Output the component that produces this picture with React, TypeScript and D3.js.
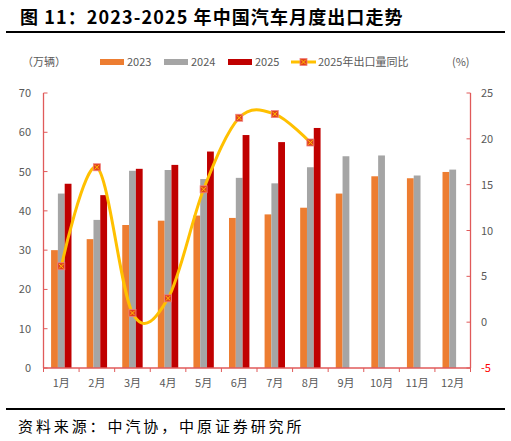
import * as d3 from 'd3';

// monthly export volume, 10k units
const months = ['1月', '2月', '3月', '4月', '5月', '6月', '7月', '8月', '9月', '10月', '11月', '12月'];
const exports2023 = [30.0, 32.8, 36.4, 37.5, 38.8, 38.2, 39.1, 40.8, 44.4, 48.8, 48.3, 49.9];
const exports2024 = [44.4, 37.7, 50.2, 50.4, 48.1, 48.4, 47.0, 51.1, 53.9, 54.1, 49.0, 50.5];
const exports2025 = [46.9, 44.0, 50.7, 51.7, 55.1, 59.3, 57.5, 61.1];
// 2025 yoy growth, %
const yoy2025 = [6.1, 16.9, 1.0, 2.6, 14.5, 22.3, 22.7, 19.6];

const leftTicks = [0, 10, 20, 30, 40, 50, 60, 70];
const rightTicks = [-5, 0, 5, 10, 15, 20, 25];

const W = 511;
const H = 441;
const plot = { left: 43.5, right: 470.5, top: 93, bottom: 368 };

const seriesNames = ['2023', '2024', '2025'];
const colors = ['#ED7D31', '#A5A5A5', '#C00000'];
const axisColor = '#E05A5A';
const labelColor = '#595959';
const cjk = '"Noto Sans CJK SC", "Noto Sans", sans-serif';

function Marker({ x, y }: { x: number; y: number }) {
  const s = 3.5;
  return (
    <g>
      <rect x={x - s} y={y - s} width={s * 2} height={s * 2} fill="#E2401C" stroke="#F08080" strokeWidth={0.8} />
      <path
        d={`M${x - s + 1.2},${y - s + 1.2}L${x + s - 1.2},${y + s - 1.2}M${x + s - 1.2},${y - s + 1.2}L${x - s + 1.2},${y + s - 1.2}`}
        stroke="#FFC000"
        strokeWidth={1}
      />
    </g>
  );
}

export default function App() {
  const x = d3.scaleBand<string>().domain(months).range([plot.left, plot.right]);
  const yL = d3.scaleLinear().domain([0, 70]).range([plot.bottom, plot.top]);
  const yR = d3.scaleLinear().domain([-5, 25]).range([plot.bottom, plot.top]);

  const barW = 6.8;
  const groups = [exports2023, exports2024, exports2025];

  const cx = (m: string) => (x(m) ?? 0) + x.bandwidth() / 2;

  const line = d3
    .line<number>()
    .x((_, i) => cx(months[i]))
    .y((d) => yR(d))
    .curve(d3.curveCardinal.tension(0));

  const legend = [
    { x: 100, i: 0 },
    { x: 164, i: 1 },
    { x: 228, i: 2 },
  ];

  return (
    <svg
      width={W}
      height={H}
      style={{ position: 'fixed', left: 0, top: 0, background: '#fff' }}
      fontFamily={cjk}
    >
      {/* title */}
      <text x={20} y={24} fontSize={18} fontWeight="bold" fill="#000" letterSpacing={1.1}>
        图 11：2023-2025 年中国汽车月度出口走势
      </text>
      <line x1={6} x2={505} y1={32} y2={32} stroke="#000" strokeWidth={2} />

      {/* legend */}
      <text x={22} y={66} fontSize={11} fill={labelColor}>（万辆）</text>
      {legend.map(({ x: lx, i }) => (
        <g key={i}>
          <rect x={lx} y={59} width={24} height={6} fill={colors[i]} />
          <text x={lx + 27} y={66} fontSize={11} fill={labelColor}>{seriesNames[i]}</text>
        </g>
      ))}
      <line x1={291} x2={316} y1={62} y2={62} stroke="#FFC000" strokeWidth={3} />
      <Marker x={303.5} y={62} />
      <text x={318} y={66} fontSize={11} fill={labelColor}>2025年出口量同比</text>
      <text x={452} y={66} fontSize={11} fill={labelColor}>(%)</text>

      {/* bars */}
      {groups.map((vals, si) =>
        vals.map((v, i) => (
          <rect
            key={`${si}-${i}`}
            x={cx(months[i]) - barW * 1.5 + si * barW}
            y={yL(v)}
            width={barW}
            height={plot.bottom - yL(v)}
            fill={colors[si]}
          />
        ))
      )}

      {/* axes */}
      <line x1={plot.left} x2={plot.left} y1={plot.top} y2={plot.bottom} stroke={axisColor} strokeWidth={1.3} />
      <line x1={plot.right} x2={plot.right} y1={plot.top} y2={plot.bottom} stroke={axisColor} strokeWidth={1.3} />
      <line x1={plot.left} x2={plot.right} y1={plot.bottom} y2={plot.bottom} stroke={axisColor} strokeWidth={1.3} />

      {leftTicks.map((t) => (
        <g key={`l${t}`}>
          <line x1={plot.left} x2={plot.left + 4} y1={yL(t)} y2={yL(t)} stroke={axisColor} />
          <text x={31} y={yL(t) + 4} fontSize={11} textAnchor="end" fill={labelColor}>{t}</text>
        </g>
      ))}
      {rightTicks.map((t) => (
        <g key={`r${t}`}>
          <line x1={plot.right - 4} x2={plot.right} y1={yR(t)} y2={yR(t)} stroke={axisColor} />
          <text x={481} y={yR(t) + 4} fontSize={11} fill={t < 0 ? '#FF0000' : labelColor}>{t}</text>
        </g>
      ))}
      {months.map((m) => (
        <g key={m}>
          <line x1={x(m) ?? 0} x2={x(m) ?? 0} y1={plot.bottom} y2={plot.bottom + 4} stroke={axisColor} />
          <text x={cx(m)} y={387} fontSize={11} textAnchor="middle" fill={labelColor}>{m}</text>
        </g>
      ))}
      <line x1={plot.right} x2={plot.right} y1={plot.bottom} y2={plot.bottom + 4} stroke={axisColor} />

      {/* yoy line */}
      <path d={line(yoy2025) ?? ''} fill="none" stroke="#FFC000" strokeWidth={3} />
      {yoy2025.map((v, i) => (
        <Marker key={i} x={cx(months[i])} y={yR(v)} />
      ))}

      {/* source */}
      <line x1={6} x2={505} y1={409} y2={409} stroke="#000" strokeWidth={2} />
      <text x={18} y={432} fontSize={15} fill="#000" letterSpacing={2.9}>
        资料来源：中汽协，中原证券研究所
      </text>
    </svg>
  );
}
